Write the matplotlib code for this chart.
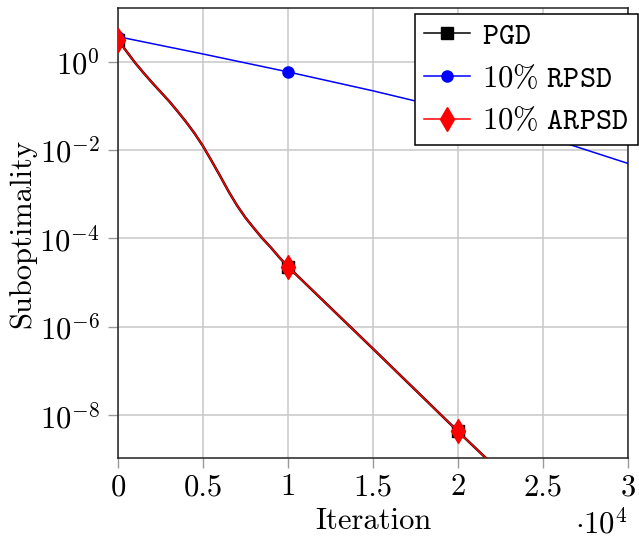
import math
import matplotlib
matplotlib.use("Agg")
import matplotlib.pyplot as plt
from matplotlib.ticker import FixedLocator, FuncFormatter, NullLocator

plt.rcParams['font.family'] = 'serif'
plt.rcParams['font.serif'] = ['cmr10']
plt.rcParams['mathtext.fontset'] = 'cm'
plt.rcParams['axes.formatter.use_mathtext'] = True

# values
iters = [0, 500, 1000, 1500, 2000, 2500, 3000, 3500, 4000, 4500, 5000,
         5500, 6000, 6500, 7000, 7500, 8000, 8500, 9000, 9500, 10000,
         15000, 20000, 25000, 30000]
pgd = [3.09, 1.72, 0.955, 0.562, 0.339, 0.209, 0.129, 0.0759, 0.0437, 0.0240,
       0.0123, 0.00575, 0.00263, 0.00117, 5.6e-4, 2.95e-4, 1.70e-4, 1.0e-4,
       6.2e-5, 3.7e-5, 2.3e-5, 3.2e-7, 4.3e-9, 6.3e-11, 1.0e-12]
arpsd = [3.09, 1.72, 0.955, 0.562, 0.339, 0.209, 0.129, 0.0759, 0.0437, 0.0240,
         0.0123, 0.00575, 0.00263, 0.00117, 5.6e-4, 2.95e-4, 1.70e-4, 1.0e-4,
         6.2e-5, 3.7e-5, 2.3e-5, 3.2e-7, 4.3e-9, 6.3e-11, 1.0e-12]

rpsd_iters = [0, 5000, 10000, 15000, 20000, 25000, 30000]
rpsd = [3.7, 1.5, 0.59, 0.22, 0.076, 0.021, 0.005]

x_ticks = [0, 5000, 10000, 15000, 20000, 25000, 30000]
x_ticklabels = ['0', '0.5', '1', '1.5', '2', '2.5', '3']
y_ticks = [1e0, 1e-2, 1e-4, 1e-6, 1e-8]

fig = plt.figure(figsize=(6.39, 5.40), dpi=100)
ax = fig.add_axes([0.1847, 0.151, 0.798, 0.834])

mark_idx = [iters.index(v) for v in (0, 10000, 20000)]
ax.plot(iters, pgd, color='black', lw=1.8, marker='s', ms=8.5,
        markevery=mark_idx, label=r'$\mathtt{PGD}$', zorder=3)
ax.plot(rpsd_iters, rpsd, color='blue', lw=1.1, marker='o', ms=8,
        markevery=[0, 2, 4], label=r'$10\%\ \mathtt{RPSD}$', zorder=4)
ax.plot(iters, arpsd, color='red', lw=1.1, marker='d', ms=12,
        markevery=mark_idx, label=r'$10\%\ \mathtt{ARPSD}$', zorder=5)

ax.set_yscale('log')
ax.set_xlim(0, 30000)
ax.set_ylim(1.05e-9, 16.4)

def xfmt(v, pos):
    v = int(round(v))
    return x_ticklabels[x_ticks.index(v)] if v in x_ticks else ''

ax.xaxis.set_major_locator(FixedLocator(x_ticks))
ax.xaxis.set_major_formatter(FuncFormatter(xfmt))
ax.yaxis.set_major_locator(FixedLocator(y_ticks))
ax.yaxis.set_minor_locator(NullLocator())
ax.yaxis.set_major_formatter(FuncFormatter(lambda v, p: r'$10^{%d}$' % round(math.log10(v))))

ax.grid(True, color='#c8c8c8', lw=1.1)
ax.set_axisbelow(True)
ax.tick_params(axis='both', direction='out', length=7, width=1, color='#9a9a9a',
               labelsize=22)
ax.tick_params(axis='y', pad=6)
ax.tick_params(axis='x', pad=4)
for s in ax.spines.values():
    s.set_color('#222222')
    s.set_linewidth(1.1)

ax.set_xlabel('Iteration', fontsize=22)
ax.set_ylabel('Suboptimality', fontsize=22)
ax.xaxis.set_label_coords(0.5, -0.11)
ax.yaxis.set_label_coords(-0.16, 0.5)
ax.text(1.0, -0.165, r'$\cdot 10^{4}$', transform=ax.transAxes, ha='right',
        va='baseline', fontsize=22)

leg = ax.legend(loc='upper right', bbox_to_anchor=(1.019, 0.988), borderaxespad=0,
                fontsize=22, frameon=True, fancybox=False, framealpha=1,
                edgecolor='black', handlelength=1.5, handletextpad=0.4,
                labelspacing=0.45, borderpad=0.3)
leg.get_frame().set_linewidth(1.1)
for line in leg.get_lines():
    line.set_linewidth(1.1)

fig.savefig('out.png', dpi=100)
